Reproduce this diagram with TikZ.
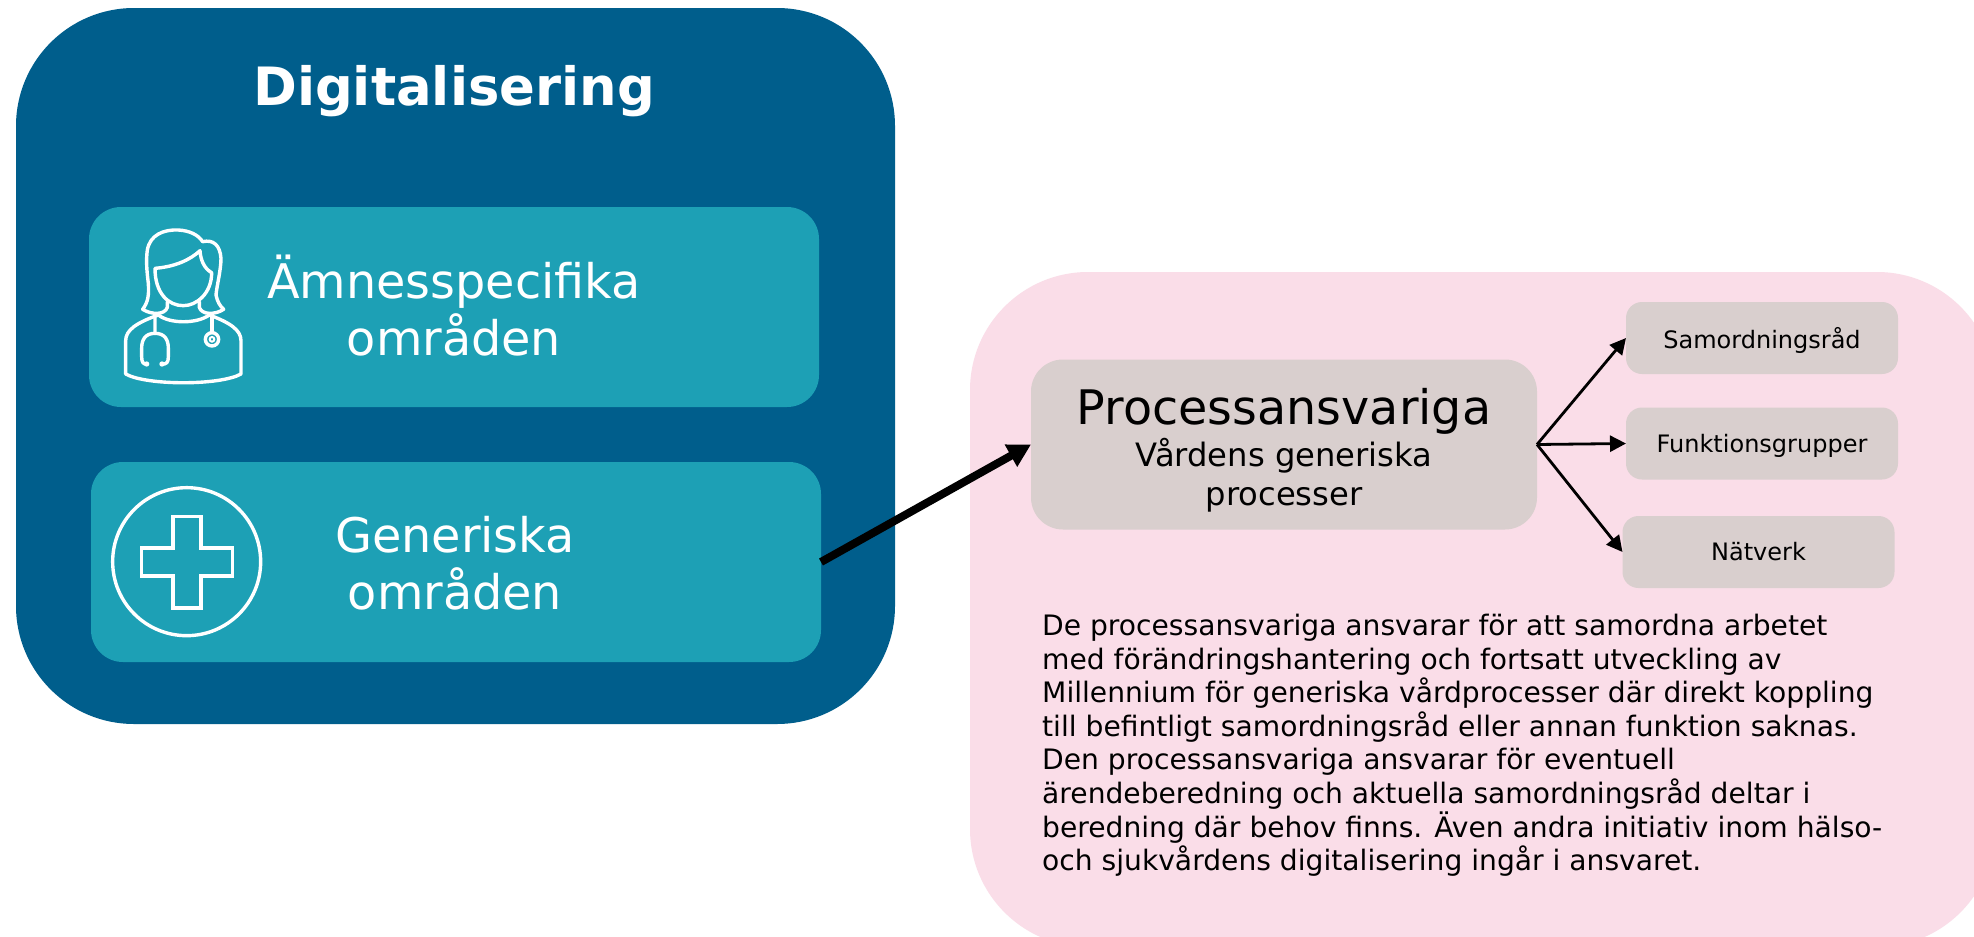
\documentclass[tikz,border=0pt]{standalone}
\usepackage{fontspec}
\setmainfont{DejaVu Sans}
\usetikzlibrary{arrows.meta}
\definecolor{darkblue}{HTML}{005E8C}
\definecolor{tealbox}{HTML}{1DA0B5}
\definecolor{pinkbox}{HTML}{FADDE8}
\definecolor{greybox}{HTML}{D9CFCE}
\tikzset{
  box/.style={rectangle,inner sep=0pt,outer sep=0pt,draw=none},
  tealpanel/.style={box,fill=tealbox,rounded corners=32pt,minimum width=730pt,minimum height=200pt},
  smallbox/.style={box,fill=greybox,rounded corners=16pt,minimum width=272pt,minimum height=72pt,text=black,font=\fontsize{24}{29}\selectfont},
  bigtext/.style={text=white,align=center,font=\fontsize{47.7}{57}\selectfont},
  thinarrow/.style={draw=black,line width=2.8pt,-{Triangle[length=16pt,width=16pt]}},
  iconline/.style={draw=white,line width=3.4pt,line join=round,line cap=round}
}
\begin{document}
\begin{tikzpicture}[x=1pt,y=-1pt]
\useasboundingbox (0,0) rectangle (1974,937);
\fill[white] (0,0) rectangle (1974,937);
% left panel
\node[box,fill=darkblue,rounded corners=118pt,minimum width=879pt,minimum height=716pt] (outer) at (455.5,366) {};
\node[text=white,font=\fontsize{52.8}{64}\selectfont\bfseries] (title) at (454,91) {Digitalisering};
\node[tealpanel] (spec) at (454,307) {};
\node[tealpanel] (gen) at (456,562) {};
\node[bigtext] (spectext) at (454,306) {Ämnesspecifika\\områden};
\node[bigtext] (gentext) at (455,563) {Generiska\\områden};
% doctor icon
\begin{scope}[shift={(80,200)},x=0.33333pt,y=-0.33333pt]
  \draw[iconline] (262,305) -- (262,322) .. controls (255,345) and (215,345) .. (188,328)
    .. controls (205,305) and (207,285) .. (205,250) .. controls (200,210) and (198,180) .. (202,150)
    .. controls (210,105) and (250,88) .. (295,90) .. controls (330,92) and (355,105) .. (368,125)
    .. controls (400,118) and (420,135) .. (423,175) .. controls (423,210) and (410,260) .. (408,285)
    .. controls (412,305) and (420,318) .. (431,328) .. controls (405,345) and (365,345) .. (358,322) -- (358,305);
  \draw[iconline] (225,205) .. controls (285,200) and (330,180) .. (360,152)
    .. controls (362,180) and (372,205) .. (395,218)
    .. controls (395,280) and (350,317) .. (310,317)
    .. controls (265,317) and (225,280) .. (225,205) -- cycle;
  \draw[iconline] (235,345) .. controls (170,368) and (137,390) .. (137,422) -- (137,522)
    .. controls (200,557) and (420,557) .. (483,522) -- (483,422)
    .. controls (483,390) and (450,368) .. (388,345);
  \draw[iconline] (235,345) .. controls (270,372) and (350,372) .. (388,345);
  \draw[iconline] (225,345) -- (225,400) .. controls (195,400) and (185,420) .. (185,445) -- (185,470) .. controls (185,488) and (190,492) .. (200,493);
  \draw[iconline] (225,400) .. controls (255,400) and (265,420) .. (265,445) -- (265,470) .. controls (265,488) and (260,492) .. (245,493);
  \fill[white] (200,492) circle (8);
  \fill[white] (246,492) circle (8);
  \draw[iconline] (396,345) -- (396,397);
  \draw[iconline] (396,418) circle (20);
  \draw[white,line width=2pt] (396,418) circle (7);
\end{scope}
% cross icon
\begin{scope}[shift={(80,450)},x=0.33333pt,y=-0.33333pt]
  \draw[white,line width=3.4pt] (320,335) circle (222);
  \draw[white,line width=3.2pt,line join=miter] (279,199) -- (363,199) -- (363,294) -- (458,294) -- (458,378) -- (363,378) -- (363,474) -- (279,474) -- (279,378) -- (184,378) -- (184,294) -- (279,294) -- cycle;
\end{scope}
% right panel
\begin{scope}
  \clip (0,0) rectangle (1974,937);
  \node[box,fill=pinkbox,rounded corners=118pt,minimum width=1025pt,minimum height=675pt] (pink) at (1482.5,609.5) {};
\end{scope}
\node[box,fill=greybox,rounded corners=32pt,minimum width=506pt,minimum height=170pt] (proc) at (1284,444.5) {};
\node[text=black,font=\fontsize{47.6}{57}\selectfont] (proctitle) at (1284,411) {Processansvariga};
\node[text=black,align=center,font=\fontsize{32.2}{39}\selectfont] (procsub) at (1284,475) {Vårdens generiska\\processer};
\node[smallbox] (sam) at (1762,338) {};
\node[text=black,font=\fontsize{24}{29}\selectfont] (samtext) at (1762,340) {Samordningsråd};
\node[smallbox] (fun) at (1762,443.5) {};
\node[text=black,font=\fontsize{24}{29}\selectfont] (funtext) at (1762,445.5) {Funktionsgrupper};
\node[smallbox] (nat) at (1758.5,552) {Nätverk};
\node[text=black,anchor=north west,align=left,inner sep=0pt,font=\fontsize{28.15}{33.6}\selectfont] (para) at (1042,614) {De processansvariga ansvarar för att samordna arbetet\\
med förändringshantering och fortsatt utveckling av\\
Millennium för generiska vårdprocesser där direkt koppling\\
till befintligt samordningsråd eller annan funktion saknas.\\
Den processansvariga ansvarar för eventuell\\
ärendeberedning och aktuella samordningsråd deltar i\\
beredning där behov finns. Även andra initiativ inom hälso-\\
och sjukvårdens digitalisering ingår i ansvaret.};
% connectors
\draw[line width=8pt,draw=black,-{Triangle[length=23pt,width=24pt]}] (gen.east) -- (proc.west);
\draw[thinarrow] (proc.east) -- (sam.west);
\draw[thinarrow] (proc.east) -- (fun.west);
\draw[thinarrow] (proc.east) -- (nat.west);
\end{tikzpicture}
\end{document}
